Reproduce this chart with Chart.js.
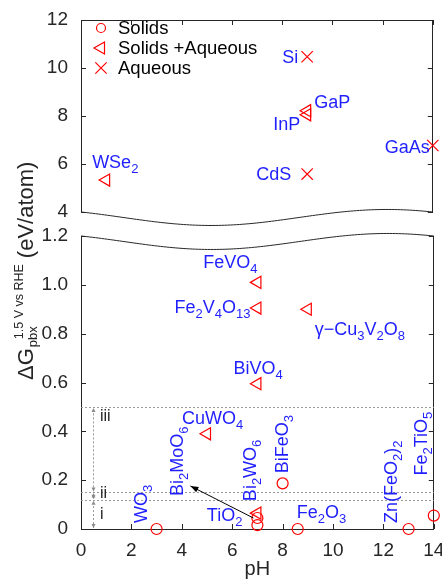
<!DOCTYPE html>
<html>
<head>
<meta charset="utf-8">
<script src="https://cdn.jsdelivr.net/npm/chart.js"></script>
<style>
  html, body { margin: 0; padding: 0; background: #fff; }
  #wrap { position: relative; width: 442px; height: 584px; }
  canvas { position: absolute; left: 0; top: 0; }
</style>
</head>
<body>
<div id="wrap">
  <canvas id="low" width="442" height="584"></canvas>
  <canvas id="up" width="442" height="584"></canvas>
</div>
<script>
// upper panel (4 - 12 eV/atom)
const upMixNames = ['WSe_2', 'GaP', 'InP'];
const upMixPH = [1, 9, 9];
const upMixG = [5.33, 8.22, 8.05];
const upAqNames = ['Si', 'CdS', 'GaAs'];
const upAqPH = [9, 9, 14];
const upAqG = [10.47, 5.58, 6.77];

// lower panel (0 - 1.2 eV/atom)
const lowSolidNames = ['WO_3', 'Bi_2MoO_6', 'TiO_2', 'BiFeO_3', 'Fe_2O_3', 'Zn(FeO_2)_2', 'Fe_2TiO_5'];
const lowSolidPH = [3, 7, 7, 8, 8.6, 13, 14];
const lowSolidG = [0, 0.045, 0.016, 0.187, 0, 0, 0.055];
const lowMixNames = ['FeVO_4', 'Fe_2V_4O_{13}', 'γ−Cu_3V_2O_8', 'BiVO_4', 'CuWO_4', 'Bi_2WO_6'];
const lowMixPH = [7, 7, 9, 7, 5, 7];
const lowMixG = [1.01, 0.905, 0.9, 0.595, 0.39, 0.065];

// stability windows i / ii / iii
const stability = [0.12, 0.15, 0.5];
const stabilityNames = ['i', 'ii', 'iii'];

const phTicks = [0, 2, 4, 6, 8, 10, 12, 14];
const upTicks = [4, 6, 8, 10, 12];
const lowTicks = [0, 0.2, 0.4, 0.6, 0.8, 1, 1.2];

// label offsets from their marker (px): dx, dy, mode (l = left aligned, r = right aligned, v = vertical)
const place = {
  'WSe_2': [-14, -18, 'l'],
  'GaP': [7, -9, 'l'],
  'InP': [-7, 9, 'r'],
  'Si': [-9, 0, 'r'],
  'CdS': [-16, 0, 'r'],
  'GaAs': [-3, 1, 'r'],
  'FeVO_4': [0, -21, 'r'],
  'Fe_2V_4O_{13}': [-7, -1, 'r'],
  'γ−Cu_3V_2O_8': [7, 19, 'l'],
  'BiVO_4': [-24, -16, 'l'],
  'CuWO_4': [-25, -16, 'l'],
  'Bi_2WO_6': [-8, -12, 'v'],
  'Bi_2MoO_6': [-81, -22, 'v'],
  'TiO_2': [-15, -10, 'r'],
  'WO_3': [-16, -6, 'v'],
  'BiFeO_3': [-1, -10, 'v'],
  'Fe_2O_3': [-1, -17, 'l'],
  'Zn(FeO_2)_2': [-18, -6, 'v'],
  'Fe_2TiO_5': [-13, -40, 'v']
};
const arrowFrom = { 'Bi_2MoO_6': [[-4, 0], [-67, -32]] };
const stabilityLabelAt = [0.06, 0.145, 0.46];

const FONT = "'Liberation Sans', Arial, Helvetica, sans-serif";
const INK = '#262626';
const RED = '#ff0000';
const BLUE = '#1f1fff';

function font(size) { return size + 'px ' + FONT; }

// split "Fe_2O_3" into normal / sub / sup pieces
function parts(s) {
  const out = [];
  let buf = '', i = 0;
  while (i < s.length) {
    const c = s[i];
    if (c === '_' || c === '^') {
      if (buf) { out.push({ t: buf, k: 0 }); buf = ''; }
      let t;
      if (s[i + 1] === '{') {
        const j = s.indexOf('}', i);
        t = s.slice(i + 2, j);
        i = j + 1;
      } else {
        t = s[i + 1];
        i += 2;
      }
      out.push({ t: t, k: c === '_' ? 1 : -1 });
    } else {
      buf += c;
      i++;
    }
  }
  if (buf) out.push({ t: buf, k: 0 });
  return out;
}

// x, y = baseline start (or end when right aligned)
function drawRich(ctx, s, x, y, align, size, subSize) {
  const segs = parts(s);
  let w = 0;
  segs.forEach(p => {
    ctx.font = font(p.k ? subSize : size);
    p.w = ctx.measureText(p.t).width;
    w += p.w;
  });
  let cx = align === 'right' ? x - w : x;
  ctx.textAlign = 'left';
  ctx.textBaseline = 'alphabetic';
  segs.forEach(p => {
    ctx.font = font(p.k ? subSize : size);
    ctx.fillText(p.t, cx, y + (p.k === 1 ? 5 : 0) - (p.k === -1 ? 8 : 0));
    cx += p.w;
  });
}

function waveY(t) {
  return 8 * Math.sin(2 * Math.PI * (t - 0.12)) + 8 * Math.sin(2 * Math.PI * 0.12);
}

function drawWave(ctx, ca, base) {
  ctx.save();
  ctx.strokeStyle = INK;
  ctx.lineWidth = 1;
  ctx.beginPath();
  for (let i = 0; i <= 120; i++) {
    const t = i / 120;
    const x = ca.left + t * (ca.right - ca.left);
    const y = base + waveY(t);
    if (i === 0) ctx.moveTo(x, y); else ctx.lineTo(x, y);
  }
  ctx.stroke();
  ctx.restore();
}

function arrowHead(ctx, x1, y1, x2, y2, len, half) {
  const a = Math.atan2(y2 - y1, x2 - x1);
  ctx.beginPath();
  ctx.moveTo(x2, y2);
  ctx.lineTo(x2 - len * Math.cos(a) + half * Math.sin(a), y2 - len * Math.sin(a) - half * Math.cos(a));
  ctx.lineTo(x2 - len * Math.cos(a) - half * Math.sin(a), y2 - len * Math.sin(a) + half * Math.cos(a));
  ctx.closePath();
  ctx.fill();
}

// inward tick marks from the scales
const inTicks = {
  id: 'inTicks',
  afterDraw(chart) {
    const ctx = chart.ctx, ca = chart.chartArea;
    ctx.save();
    ctx.strokeStyle = INK;
    ctx.lineWidth = 1;
    Object.values(chart.scales).forEach(s => {
      s.ticks.forEach(t => {
        const p = Math.round(s.getPixelForValue(t.value)) + 0.5;
        ctx.beginPath();
        if (s.axis === 'x') {
          const y0 = s.position === 'top' ? ca.top : ca.bottom;
          const d = s.position === 'top' ? 5 : -5;
          ctx.moveTo(p, y0); ctx.lineTo(p, y0 + d);
        } else {
          const x0 = s.position === 'left' ? ca.left : ca.right;
          const d = s.position === 'left' ? 5 : -5;
          ctx.moveTo(x0, p); ctx.lineTo(x0 + d, p);
        }
        ctx.stroke();
      });
    });
    ctx.restore();
  }
};

// formula labels next to points
const pointLabels = {
  id: 'pointLabels',
  afterDatasetsDraw(chart) {
    const ctx = chart.ctx;
    ctx.save();
    chart.data.datasets.forEach((ds, di) => {
      if (!ds.names) return;
      const meta = chart.getDatasetMeta(di);
      ds.names.forEach((name, j) => {
        const el = meta.data[j];
        const pl = place[name];
        if (!el || !pl) return;
        const x = el.x + pl[0], y = el.y + pl[1];
        ctx.fillStyle = BLUE;
        if (pl[2] === 'v') {
          ctx.save();
          ctx.translate(x + 6.3, y);
          ctx.rotate(-Math.PI / 2);
          drawRich(ctx, name, 0, 0, 'left', 18, 13);
          ctx.restore();
        } else {
          drawRich(ctx, name, x, y + 6.3, pl[2] === 'r' ? 'right' : 'left', 18, 13);
        }
        const ar = arrowFrom[name];
        if (ar) {
          const x1 = el.x + ar[0][0], y1 = el.y + ar[0][1];
          const x2 = el.x + ar[1][0], y2 = el.y + ar[1][1];
          ctx.strokeStyle = '#000';
          ctx.fillStyle = '#000';
          ctx.lineWidth = 1;
          ctx.beginPath();
          ctx.moveTo(x1, y1);
          ctx.lineTo(x2, y2);
          ctx.stroke();
          arrowHead(ctx, x1, y1, x2, y2, 8, 3);
        }
      });
    });
    ctx.restore();
  }
};

const upperDecor = {
  id: 'upperDecor',
  afterDraw(chart) {
    const ctx = chart.ctx, ca = chart.chartArea;
    drawWave(ctx, ca, ca.bottom);
    // legend
    ctx.save();
    chart.data.datasets.forEach((ds, i) => {
      const y = ca.top + 8 + i * 20;
      ctx.strokeStyle = ds.borderColor;
      ctx.fillStyle = 'rgba(0,0,0,0)';
      ctx.lineWidth = ds.borderWidth;
      Chart.helpers.drawPoint(ctx, {
        pointStyle: ds.pointStyle, rotation: ds.rotation || 0,
        radius: ds.pointStyle === 'circle' ? 4.5 : ds.pointRadius, borderWidth: ds.borderWidth
      }, ca.left + 20, y);
      ctx.fillStyle = '#000';
      ctx.font = font(18.5);
      ctx.textAlign = 'left';
      ctx.textBaseline = 'middle';
      ctx.fillText(ds.label, ca.left + 37, y + 1);
    });
    ctx.restore();
  }
};

const lowerDecor = {
  id: 'lowerDecor',
  beforeDatasetsDraw(chart) {
    const ctx = chart.ctx, ca = chart.chartArea;
    const ys = chart.scales.y, xs = chart.scales.x;
    ctx.save();
    ctx.strokeStyle = '#9a9a9a';
    ctx.fillStyle = '#8a8a8a';
    ctx.lineWidth = 1;
    ctx.setLineDash([2, 2]);
    stability.forEach(v => {
      const y = Math.round(ys.getPixelForValue(v)) + 0.5;
      ctx.beginPath();
      ctx.moveTo(ca.left, y);
      ctx.lineTo(ca.right, y);
      ctx.stroke();
    });
    const bounds = [0].concat(stability);
    const ax = Math.round(xs.getPixelForValue(0.47)) + 0.5;
    for (let i = 0; i < stability.length; i++) {
      const y1 = ys.getPixelForValue(bounds[i]) - 1;
      const y2 = ys.getPixelForValue(bounds[i + 1]) + 1;
      ctx.setLineDash([2, 2]);
      ctx.beginPath();
      ctx.moveTo(ax, y1);
      ctx.lineTo(ax, y2);
      ctx.stroke();
      ctx.setLineDash([]);
      arrowHead(ctx, ax, y1 - 5, ax, y1, 4, 2);
      arrowHead(ctx, ax, y2 + 5, ax, y2, 4, 2);
    }
    ctx.fillStyle = INK;
    ctx.font = font(16);
    ctx.textAlign = 'left';
    ctx.textBaseline = 'middle';
    stabilityNames.forEach((n, i) => {
      ctx.fillText(n, xs.getPixelForValue(0.75), ys.getPixelForValue(stabilityLabelAt[i]));
    });
    ctx.restore();
  },
  afterDraw(chart) {
    const ctx = chart.ctx, ca = chart.chartArea;
    drawWave(ctx, ca, ca.top);
    // y axis title spanning both panels
    ctx.save();
    ctx.translate(33, 380);
    ctx.rotate(-Math.PI / 2);
    ctx.fillStyle = INK;
    ctx.textAlign = 'left';
    ctx.textBaseline = 'alphabetic';
    ctx.font = font(22);
    ctx.fillText('ΔG', 0, 0);
    let w = ctx.measureText('ΔG').width;
    ctx.font = font(13);
    ctx.fillText('pbx', w + 1, 4);
    ctx.font = font(12.5);
    ctx.fillText('1.5 V vs RHE', w + 9, -10);
    w += 9 + ctx.measureText('1.5 V vs RHE').width;
    ctx.font = font(22);
    ctx.fillText('(eV/atom)', w + 6, 0);
    ctx.restore();
  }
};

function pts(xs, ys) { return xs.map((x, i) => ({ x: x, y: ys[i] })); }

function circleSet(label, xs, ys, names) {
  return { label: label, data: pts(xs, ys), names: names, pointStyle: 'circle', pointRadius: 5.5,
    borderColor: RED, backgroundColor: 'rgba(0,0,0,0)', borderWidth: 1.2, clip: false };
}
function triSet(label, xs, ys, names) {
  return { label: label, data: pts(xs, ys), names: names, pointStyle: 'triangle', rotation: -90, pointRadius: 7,
    borderColor: RED, backgroundColor: 'rgba(0,0,0,0)', borderWidth: 1.2, clip: false };
}
function crossSet(label, xs, ys, names) {
  return { label: label, data: pts(xs, ys), names: names, pointStyle: 'crossRot', pointRadius: 8,
    borderColor: RED, backgroundColor: 'rgba(0,0,0,0)', borderWidth: 1.2, clip: false };
}

function fixTicks(arr) {
  return s => { s.ticks = arr.map(v => ({ value: v })); };
}
function fixWidth(w) {
  return s => { s.width = w; s.paddingTop = 0; s.paddingBottom = 0; };
}

const tickFont = { family: FONT, size: 19 };

new Chart(document.getElementById('up'), {
  type: 'scatter',
  data: {
    datasets: [
      circleSet('Solids', [], [], null),
      triSet('Solids +Aqueous', upMixPH, upMixG, upMixNames),
      crossSet('Aqueous', upAqPH, upAqG, upAqNames)
    ]
  },
  options: {
    responsive: false,
    animation: false,
    events: [],
    layout: { padding: { left: 31, right: 6, top: 20, bottom: 372 } },
    plugins: { legend: { display: false }, tooltip: { enabled: false } },
    scales: {
      x: {
        type: 'linear', position: 'top', min: 0, max: 14,
        afterBuildTicks: fixTicks(phTicks),
        ticks: { display: false },
        grid: { display: false },
        border: { color: INK, width: 1 },
        afterFit: s => { s.height = 0; s.paddingLeft = 0; s.paddingRight = 0; }
      },
      y: {
        position: 'left', min: 4, max: 12,
        afterBuildTicks: fixTicks(upTicks),
        ticks: { color: INK, font: tickFont, padding: 5 },
        grid: { display: false },
        border: { color: INK, width: 1 },
        afterFit: fixWidth(50)
      },
      y2: {
        position: 'right', min: 4, max: 12,
        afterBuildTicks: fixTicks(upTicks),
        ticks: { display: false },
        grid: { display: false },
        border: { color: INK, width: 1 },
        afterFit: fixWidth(0)
      }
    }
  },
  plugins: [inTicks, pointLabels, upperDecor]
});

new Chart(document.getElementById('low'), {
  type: 'scatter',
  data: {
    datasets: [
      circleSet('Solids', lowSolidPH, lowSolidG, lowSolidNames),
      triSet('Solids +Aqueous', lowMixPH, lowMixG, lowMixNames)
    ]
  },
  options: {
    responsive: false,
    animation: false,
    events: [],
    layout: { padding: { left: 31, right: 6, top: 236, bottom: 0 } },
    plugins: { legend: { display: false }, tooltip: { enabled: false } },
    scales: {
      x: {
        type: 'linear', position: 'bottom', min: 0, max: 14,
        afterBuildTicks: fixTicks(phTicks),
        ticks: { color: INK, font: tickFont, padding: 2, maxRotation: 0 },
        grid: { display: false },
        border: { color: INK, width: 1 },
        title: { display: true, text: 'pH', color: INK, font: { family: FONT, size: 20 }, padding: { top: 0, bottom: 3 } },
        afterFit: s => { s.height = 55; s.paddingLeft = 0; s.paddingRight = 0; }
      },
      y: {
        position: 'left', min: 0, max: 1.2,
        afterBuildTicks: fixTicks(lowTicks),
        ticks: { color: INK, font: tickFont, padding: 5 },
        grid: { display: false },
        border: { color: INK, width: 1 },
        afterFit: fixWidth(50)
      },
      y2: {
        position: 'right', min: 0, max: 1.2,
        afterBuildTicks: fixTicks(lowTicks),
        ticks: { display: false },
        grid: { display: false },
        border: { color: INK, width: 1 },
        afterFit: fixWidth(0)
      }
    }
  },
  plugins: [inTicks, lowerDecor, pointLabels]
});
</script>
</body>
</html>
